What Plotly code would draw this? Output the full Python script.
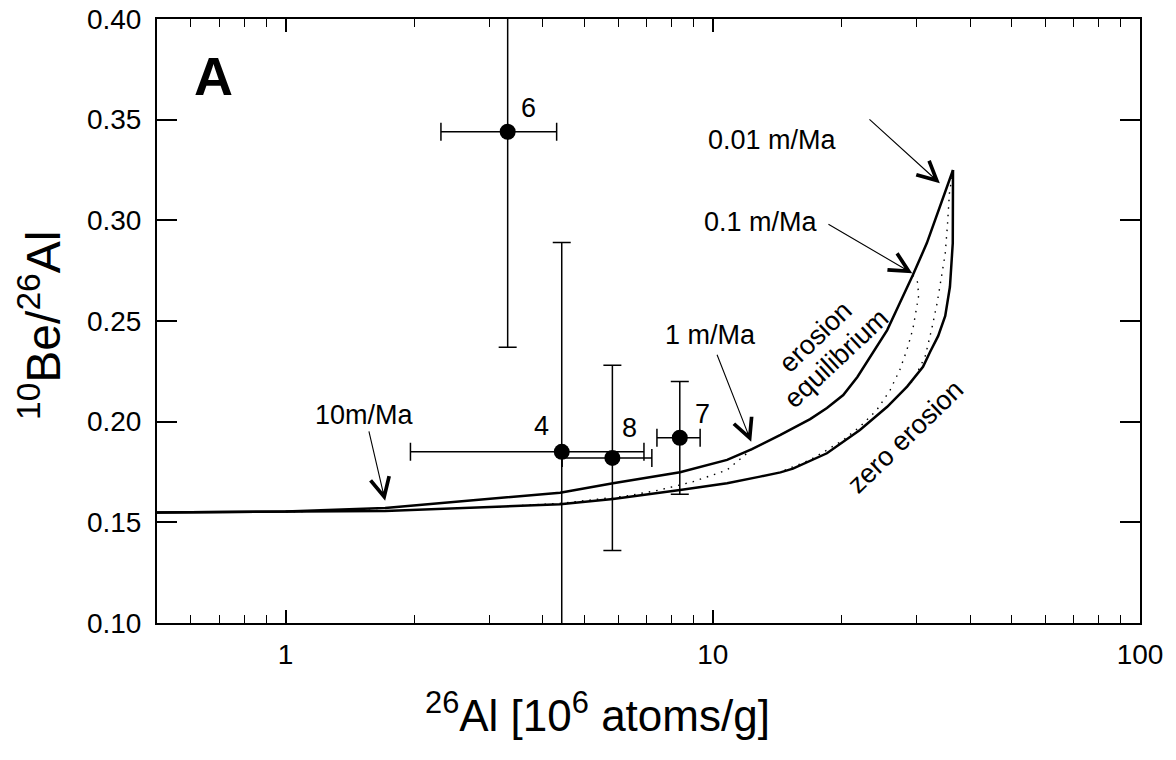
import numpy as np
import plotly.graph_objects as go

# ---------------- data ----------------
sample_ids = ["6", "4", "8", "7"]
al26 = [3.31, 4.43, 5.82, 8.37]            # 10^6 atoms/g
al26_err = [1.00, 2.47, 1.38, 0.97]
be_al = [0.344, 0.185, 0.182, 0.192]       # 10Be/26Al
be_al_err = [0.107, 0.104, 0.046, 0.028]
id_x = [3.70, 3.98, 6.37, 9.47]
id_y = [0.356, 0.198, 0.197, 0.204]

# erosion equilibrium curve
eq_x = [0.5, 1.0, 1.71, 4.39, 5.84, 8.38, 10.8, 12.35, 14.4, 16.9, 18.5, 20.2,
        21.8, 23.7, 25.6, 27.4, 29.4, 31.7, 34.0, 36.5]
eq_y = [0.1549, 0.1554, 0.1571, 0.1647, 0.1694, 0.1749, 0.1810, 0.1864, 0.1934,
        0.2013, 0.2068, 0.2132, 0.2222, 0.2346, 0.2455, 0.2589, 0.2728, 0.2887,
        0.3066, 0.3250]

# zero erosion curve
zero_x = [0.5, 1.0, 1.71, 4.39, 5.84, 8.38, 10.8, 12.9, 14.4, 15.4, 18.5, 22.1,
          25.6, 28.5, 31.05, 32.25, 33.7, 35.0, 35.9, 36.45, 36.5, 36.5]
zero_y = [0.1549, 0.1551, 0.1556, 0.1590, 0.1616, 0.1661, 0.1694, 0.1727, 0.1748,
          0.1767, 0.1843, 0.1959, 0.2074, 0.2174, 0.2272, 0.2346, 0.2426, 0.2525,
          0.2670, 0.2886, 0.3134, 0.3250]

# constant-erosion trajectories (dotted)
d001_x = [36.5, 35.8, 35.4, 35.0, 34.3, 33.5, 32.5, 31.4, 29.5, 27.0, 25.6]
d001_y = [0.3250, 0.3134, 0.2968, 0.2836, 0.2720, 0.2588, 0.2455, 0.2323, 0.2207, 0.2124, 0.2074]
d01_x = [29.4, 30.2, 30.3, 30.0, 29.4, 28.5, 27.4, 26.0, 24.2, 22.1, 20.2, 18.5, 16.9, 15.4, 14.4]
d01_y = [0.2728, 0.2690, 0.2620, 0.2560, 0.2460, 0.2360, 0.2257, 0.2157, 0.2058,
         0.1975, 0.1909, 0.1859, 0.1810, 0.1776, 0.1750]
d1_x = [12.35, 10.8, 9.0, 7.52, 6.29, 5.25, 4.39, 3.0]
d1_y = [0.1864, 0.1760, 0.1702, 0.1661, 0.1631, 0.1611, 0.1594, 0.1575]
d10_x = [1.71, 1.3, 1.0]
d10_y = [0.1571, 0.1557, 0.1552]

# rate labels: text, text position, arrow tail, arrow tip
rate_text = ["0.01 m/Ma", "0.1 m/Ma", "1 m/Ma", "10m/Ma"]
rate_tx = [13.83, 13.0, 9.85, 1.53]
rate_ty = [0.3399, 0.2993, 0.2430, 0.2033]
tail_x = [23.08, 18.5, 10.2, 1.564]
tail_y = [0.3508, 0.2985, 0.2340, 0.1959]
tip_x = [34.0, 29.3, 12.3, 1.71]
tip_y = [0.3184, 0.2737, 0.1900, 0.1607]

curve_text = ["erosion", "equilibrium", "zero erosion"]
curve_tx = [17.35, 19.5, 28.18]
curve_ty = [0.2422, 0.2315, 0.1925]
curve_angle = [-44, -43, -44]

x_ticks = [1, 10, 100]
y_ticks = [0.10, 0.15, 0.20, 0.25, 0.30, 0.35, 0.40]

FONT = "Liberation Sans, Arial, Helvetica, sans-serif"

fig = go.Figure()

dot = "1.5px,6px"
for xs, ys in [(d001_x, d001_y), (d01_x, d01_y), (d1_x, d1_y), (d10_x, d10_y)]:
    fig.add_trace(go.Scatter(x=xs, y=ys, mode="lines", showlegend=False,
                             line=dict(color="black", width=1.4, dash=dot),
                             hoverinfo="skip"))

fig.add_trace(go.Scatter(x=eq_x, y=eq_y, mode="lines", showlegend=False,
                         line=dict(color="black", width=2.5)))
fig.add_trace(go.Scatter(x=zero_x, y=zero_y, mode="lines", showlegend=False,
                         line=dict(color="black", width=2.5)))

fig.add_trace(go.Scatter(
    x=al26, y=be_al, mode="markers", showlegend=False,
    marker=dict(color="black", size=16),
    error_x=dict(type="data", array=al26_err, color="black", thickness=1.5, width=9),
    error_y=dict(type="data", array=be_al_err, color="black", thickness=1.5, width=9),
))

ann = []
for t, x, y in zip(sample_ids, id_x, id_y):
    ann.append(dict(x=np.log10(x), y=y, xref="x", yref="y", text=t, showarrow=False,
                    xanchor="center", yanchor="middle",
                    font=dict(family=FONT, size=27, color="black")))
for t, x, y in zip(rate_text, rate_tx, rate_ty):
    ann.append(dict(x=np.log10(x), y=y, xref="x", yref="y", text=t, showarrow=False,
                    xanchor="center", yanchor="middle",
                    font=dict(family=FONT, size=27, color="black")))
for x0, y0, x1, y1 in zip(tail_x, tail_y, tip_x, tip_y):
    ann.append(dict(x=np.log10(x1), y=y1, ax=np.log10(x0), ay=y0,
                    xref="x", yref="y", axref="x", ayref="y", text="",
                    showarrow=True, arrowhead=5, arrowsize=3.4, arrowwidth=1.1,
                    arrowcolor="black", standoff=0, startstandoff=0))
for t, x, y, a in zip(curve_text, curve_tx, curve_ty, curve_angle):
    ann.append(dict(x=np.log10(x), y=y, xref="x", yref="y", text=t, showarrow=False,
                    xanchor="center", yanchor="middle", textangle=a,
                    font=dict(family=FONT, size=27, color="black")))
# panel letter
ann.append(dict(x=0.057, y=0.906, xref="paper", yref="paper", text="<b>A</b>",
                xanchor="center", yanchor="middle", showarrow=False,
                font=dict(family=FONT, size=54, color="black")))
# axis titles
ann.append(dict(x=(597 - 157) / 983, y=-(712 - 623) / 604, xref="paper", yref="paper",
                xanchor="center", yanchor="middle",
                text="<sup>26</sup>Al [10<sup>6</sup> atoms/g]", showarrow=False,
                font=dict(family=FONT, size=44, color="black")))
ann.append(dict(x=-(157 - 40) / 983, y=1 - (326 - 19) / 604, xref="paper", yref="paper",
                xanchor="center", yanchor="middle",
                text="<sup>10</sup>Be/<sup>26</sup>Al", showarrow=False, textangle=-90,
                font=dict(family=FONT, size=48, color="black")))

fig.update_layout(
    width=1176, height=760,
    margin=dict(l=157, r=36, t=19, b=137, autoexpand=False),
    paper_bgcolor="white", plot_bgcolor="white",
    font=dict(family=FONT, size=28, color="black"),
    annotations=ann,
    showlegend=False,
)

fig.update_xaxes(
    type="log", range=[np.log10(0.5), 2], automargin=False,
    showline=True, linecolor="black", linewidth=2, mirror="ticks",
    ticks="inside", ticklen=13, tickwidth=2, tickcolor="black",
    tickvals=x_ticks, ticktext=[str(v) for v in x_ticks],
    tickfont=dict(size=28, family=FONT), ticklabelstandoff=5,
    minor=dict(ticks="inside", ticklen=8, tickwidth=1.2, tickcolor="black",
               dtick="D1", showgrid=False),
    showgrid=False, zeroline=False,
)
fig.update_yaxes(
    range=[0.10, 0.40], automargin=False,
    showline=True, linecolor="black", linewidth=2, mirror="ticks",
    ticks="inside", ticklen=20, tickwidth=2, tickcolor="black",
    tickvals=y_ticks, ticktext=["%.2f" % v for v in y_ticks],
    tickfont=dict(size=28, family=FONT), ticklabelstandoff=8,
    showgrid=False, zeroline=False,
)

fig.write_html("out.html", config={"displayModeBar": False},
               post_script="document.body.style.margin='0px';")
